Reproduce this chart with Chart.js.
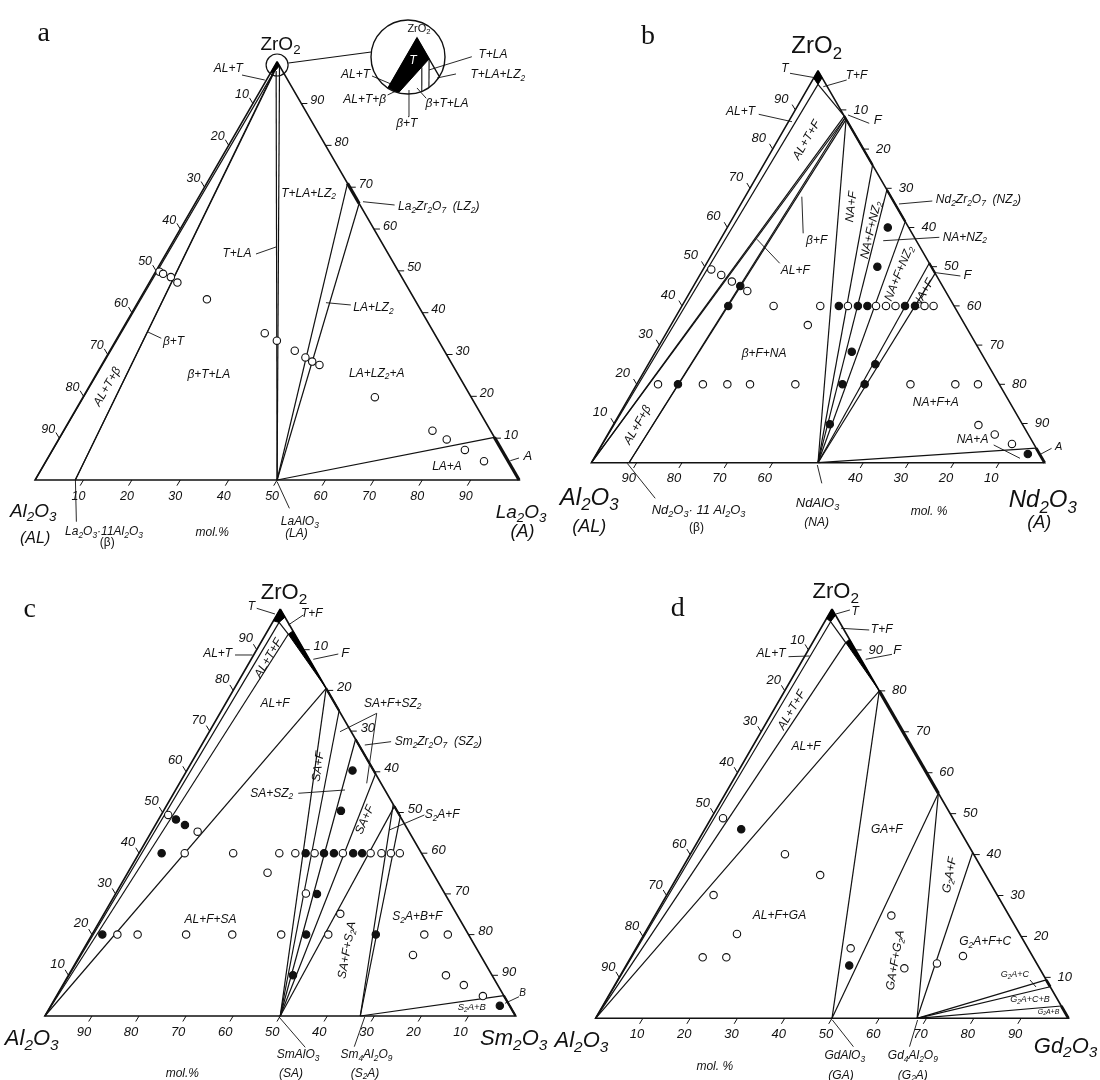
<!DOCTYPE html>
<html>
<head>
<meta charset="utf-8">
<title>ZrO2 - Al2O3 - Ln2O3 isothermal sections</title>
<script src="https://cdn.jsdelivr.net/npm/chart.js@4.4.1/dist/chart.umd.min.js"></script>
<style>
  body { margin: 0; background: #fff; }
  #page { position: relative; width: 1100px; height: 1080px; overflow: hidden; }
  #page canvas { position: absolute; left: 0; top: 0; }
</style>
</head>
<body>
<div id="page">
  <canvas id="chartA" width="1100" height="1080"></canvas>
  <canvas id="chartB" width="1100" height="1080"></canvas>
  <canvas id="chartC" width="1100" height="1080"></canvas>
  <canvas id="chartD" width="1100" height="1080"></canvas>
  <canvas id="chartInset" width="1100" height="1080"></canvas>
</div>
<script>
// axis labels (mol.%)
const TICKS = [10, 20, 30, 40, 50, 60, 70, 80, 90];
const TICKS_NO50 = [10, 20, 30, 40, 60, 70, 80, 90];

// all compositions are [ZrO2, Ln2O3] in mol.%, the rest is Al2O3
const AL = [0, 0];
const BETA = [0, 8.3];   // Ln2O3*11Al2O3
const LNA = [0, 50];     // LnAlO3

// ---- a : La2O3
const aOpen = [[49.8,0.8],[49.3,1.8],[48.5,3.8],[47.2,5.8],[43.2,13.9],[35.1,29.9],[33.3,33.3],[30.9,38.2],[29.3,41.2],[28.3,43.1],[27.5,45],[19.8,60.3],[11.8,76.2],[9.7,80.2],[7.2,85.2],[4.5,90.5]];
const aTies = [[AL,[97.4,0.55]],[BETA,[97.4,0.55]],[BETA,[98.2,0.6]],[LNA,[99,1]],[LNA,[97.8,0.9]],[LNA,[70.9,29.1]],[LNA,[66.1,33.9]],[LNA,[10.2,89.8]]];
const aSolid = [[[70.9,29.1],[66.1,33.9]],[[10.2,89.8],[0,100]]];
const aT = [[100,0],[99,1],[97.4,0.55],[97.5,0]];
const insetTies = [[LNA,[99,1]],[LNA,[98.6,0.9]],[BETA,[97.4,0.55]],[AL,[97.45,0.2]]];

// ---- b : Nd2O3
const bOpen = [[49.3,1.8],[47.9,4.7],[46.2,7.9],[43.8,12.5],[40,20.2],[40,30.5],[40,36.6],[40,42.8],[40,45],[40,47.1],[40,53.5],[40,55.5],[35.1,30.2],[20,4.7],[20,14.6],[20,20],[20,25],[20,35],[20,60.4],[20,70.3],[20,75.3],[9.6,80.6],[7.2,85.4],[4.8,90.4]];
const bFilled = [[45.1,10.3],[40,10.2],[40,34.6],[40,38.8],[40,40.9],[40,49.2],[40,51.4],[60,35.4],[50,38.1],[28.3,43.3],[25.1,50.1],[20,9.1],[20,45.4],[20,50.3],[9.8,47.7],[2.2,95.2]];
const bTies = [[AL,[96.5,1.75]],[[96.5,1.75],[88.4,11.6]],[AL,[88.4,11.6]],[AL,[88,12]],[BETA,[88,12]],[BETA,[87.6,12.4]],[LNA,[87.6,12.4]],[LNA,[75.9,24.1]],[LNA,[69.6,30.4]],[LNA,[61.5,38.5]],[LNA,[50.9,49.1]],[LNA,[48.3,51.7]],[LNA,[3.7,96.3]]];
const bSolid = [[[88.4,11.6],[75.9,24.1]],[[69.6,30.4],[61.5,38.5]],[[50.9,49.1],[48.3,51.7]]];
const bEnd = [[[3.7,96.3],[0,100]]];
const bT = [[100,0],[98.2,1.8],[96.5,1.75],[98.1,0]];

// ---- c : Sm2O3
const cS2A = [0, 67];
const cOpen = [[49.4,1.5],[45.3,9.8],[40,9.7],[40,20],[40,29.8],[40,33.2],[40,37.3],[40,43.3],[40,49.2],[40,51.5],[40,53.5],[40,55.4],[35.2,29.7],[30.1,40.4],[25.1,50.2],[20,5.4],[20,9.7],[20,20],[20,29.8],[20,40.2],[20,50.2],[20,70.6],[20,75.6],[15,70.7],[10,80.2],[7.6,85.2],[4.9,90.6]];
const cFilled = [[60.3,35.2],[50.4,37.7],[48.3,3.7],[46.9,6.3],[40,4.8],[40,35.4],[40,39.3],[40,41.4],[40,45.5],[40,47.4],[30,42.8],[20,2.2],[20,45.5],[20,60.3],[10,47.7],[2.5,95.4]];
const cTies = [[AL,[96.7,1.4]],[AL,[93.8,4.8]],[AL,[80.5,19.5]],[[96.7,1.4],[93.8,4.8]],[LNA,[80.5,19.5]],[LNA,[75,25]],[LNA,[68,32]],[LNA,[59.5,40.5]],[LNA,[51.5,48.5]],[cS2A,[52,48]],[cS2A,[49,51]],[cS2A,[5,95]]];
const cSolid = [[[80.5,19.5],[75,25]],[[68,32],[59.5,40.5]],[[51.5,48.5],[49,51]],[[5,95],[0,100]]];
const cT = [[100,0],[98,2],[96.7,1.4],[97.1,0]];
const cF = [[94.6,5.4],[80.5,19.5],[93.8,4.8]];

// ---- d : Gd2O3
const dG2A = [0, 68];
const dOpen = [[48.9,2.5],[40.1,20],[35,30],[30.1,9.9],[20.6,19.6],[14.9,15.2],[14.9,20.2],[17.1,45.4],[25.1,50],[12.2,59.2],[13.4,65.5],[15.2,70.1]];
const dFilled = [[46.2,7.7],[12.9,47.2]];
const dTies = [[AL,[96.9,1.25]],[AL,[91.8,7]],[AL,[80,20]],[[96.9,1.25],[91.8,7]],[LNA,[80,20]],[LNA,[55,45]],[dG2A,[55,45]],[dG2A,[40.5,59.5]],[dG2A,[9.4,90.6]],[dG2A,[7.7,92.3]],[dG2A,[3,97]]];
const dSolid = [[[80,20],[55,45]]];
const dEnd = [[[9.4,90.6],[7.7,92.3]],[[3,97],[0,100]]];
const dT = [[100,0],[98.5,1.5],[96.9,1.25],[97.7,0]];
const dF = [[92.6,7.4],[80,20],[91.8,7]];

// text: [label, x, y (triangle units), size, options]
const aLabels = [
  ['a', 0.018, 1.068, 28, {serif: 1}],
  ['ZrO_2', 0.507, 1.040, 19, {up: 1}],
  ['AL+T', 0.399, 0.984, 12],
  ['T+LA+LZ_2', 0.565, 0.685, 12],
  ['La_2Zr_2O_7  (LZ_2)', 0.750, 0.653, 12, {a: 'left'}],
  ['T+LA', 0.417, 0.542, 12],
  ['LA+LZ_2', 0.699, 0.411, 12],
  ['β+T', 0.286, 0.331, 12],
  ['AL+T+β', 0.149, 0.223, 12, {r: -60}],
  ['β+T+LA', 0.359, 0.251, 12],
  ['LA+LZ_2+A', 0.706, 0.255, 12],
  ['LA+A', 0.851, 0.032, 12],
  ['A', 1.018, 0.057, 13],
  ['Al_2O_3', -0.004, -0.076, 19],
  ['(AL)', 0.000, -0.139, 16],
  ['La_2O_3·11Al_2O_3', 0.062, -0.124, 12, {a: 'left'}],
  ['(β)', 0.149, -0.150, 12, {up: 1}],
  ['mol.%', 0.366, -0.127, 12],
  ['LaAlO_3', 0.547, -0.100, 12],
  ['(LA)', 0.540, -0.129, 12],
  ['La_2O_3', 1.004, -0.078, 19],
  ['(A)', 1.007, -0.124, 18],
  ['ZrO_2', 0.7932, 1.0782, 11, {up: 1}],
  ['T+LA', 0.946, 1.016, 12],
  ['T+LA+LZ_2', 0.956, 0.968, 12],
  ['AL+T', 0.662, 0.968, 12],
  ['AL+T+β', 0.681, 0.910, 12],
  ['β+T+LA', 0.851, 0.899, 12],
  ['β+T', 0.768, 0.851, 12]
];
const aLeaders = [
  [[0.4275,0.9681],[0.4746,0.9562]], [[0.6775,0.6653],[0.7428,0.6574]], [[0.4564,0.5403],[0.4977,0.557]],
  [[0.601,0.4239],[0.6523,0.4184]], [[0.2318,0.3545],[0.2607,0.3388]], [[0.9818,0.0461],[0.9998,0.0526]],
  [[0.0833,0],[0.0853,-0.0997]], [[0.5,-0.004],[0.5254,-0.0677]],
  [[0.8138,0.9802],[0.9023,1.0119]], [[0.8304,0.961],[0.8696,0.9707]], [[0.6961,0.9658],[0.7353,0.9467]],
  [[0.7283,0.9204],[0.7498,0.9323]], [[0.8081,0.9125],[0.789,0.9372]], [[0.7705,0.8686],[0.7725,0.9323]]
];

const bLabels = [
  ['b', 0.125, 1.087, 28, {serif: 1}],
  ['ZrO_2', 0.497, 1.061, 24, {up: 1}],
  ['T', 0.427, 1.006, 12],
  ['T+F', 0.585, 0.987, 12],
  ['AL+T', 0.361, 0.895, 12, {a: 'right'}],
  ['AL+T+F', 0.475, 0.823, 12, {r: -60}],
  ['F', 0.632, 0.874, 13],
  ['Nd_2Zr_2O_7  (NZ_2)', 0.760, 0.670, 12, {a: 'left'}],
  ['NA+NZ_2', 0.775, 0.575, 12, {a: 'left'}],
  ['F', 0.830, 0.479, 13],
  ['NA+F', 0.574, 0.653, 12, {r: -83}],
  ['NA+F+NZ_2', 0.617, 0.594, 12, {r: -77}],
  ['NA+F+NZ_2', 0.679, 0.483, 12, {r: -68}],
  ['NA+F', 0.733, 0.432, 12, {r: -61}],
  ['β+F', 0.497, 0.566, 12],
  ['AL+F', 0.450, 0.490, 12],
  ['AL+F+β', 0.102, 0.096, 12, {r: -60}],
  ['β+F+NA', 0.381, 0.279, 12],
  ['NA+F+A', 0.760, 0.152, 12],
  ['NA+A', 0.841, 0.058, 12],
  ['A', 1.031, 0.041, 11],
  ['Al_2O_3', -0.005, -0.091, 24],
  ['(AL)', -0.005, -0.165, 18],
  ['Nd_2O_3· 11 Al_2O_3', 0.133, -0.121, 13, {a: 'left'}],
  ['(β)', 0.232, -0.165, 12, {up: 1}],
  ['NdAlO_3', 0.499, -0.105, 13],
  ['(NA)', 0.497, -0.153, 12],
  ['mol. %', 0.745, -0.125, 12],
  ['Nd_2O_3', 0.996, -0.097, 24],
  ['(A)', 0.988, -0.153, 18]
];
const bLeaders = [
  [[0.4382,0.9934],[0.4934,0.9821]], [[0.5633,0.9763],[0.5117,0.9592]], [[0.3692,0.8888],[0.4426,0.8699]],
  [[0.5662,0.887],[0.613,0.8658]], [[0.6787,0.66],[0.7522,0.6676]], [[0.6439,0.5663],[0.7677,0.575]],
  [[0.7599,0.4847],[0.8142,0.4763]], [[0.4643,0.6786],[0.4673,0.5852]], [[0.3654,0.5699],[0.4155,0.5087]],
  [[0.8877,0.0452],[0.9457,0.0112]], [[0.992,0.0222],[1.0154,0.0367]], [[0.079,-0.0015],[0.1408,-0.0908]],
  [[0.4985,-0.0059],[0.5084,-0.0526]]
];

const cLabels = [
  ['c', -0.032, 0.998, 28, {serif: 1}],
  ['ZrO_2', 0.508, 1.039, 22, {up: 1}],
  ['T', 0.439, 1.006, 12],
  ['T+F', 0.567, 0.989, 12],
  ['AL+T', 0.367, 0.891, 12],
  ['AL+T+F', 0.475, 0.879, 12, {r: -60}],
  ['F', 0.638, 0.891, 13],
  ['AL+F', 0.489, 0.768, 12],
  ['SA+F+SZ_2', 0.739, 0.768, 12],
  ['Sm_2Zr_2O_7  (SZ_2)', 0.743, 0.674, 12, {a: 'left'}],
  ['SA+F', 0.581, 0.613, 12, {r: -82}],
  ['SA+SZ_2', 0.482, 0.547, 12],
  ['SA+F', 0.680, 0.482, 12, {r: -66}],
  ['S_2A+F', 0.844, 0.494, 12],
  ['AL+F+SA', 0.352, 0.236, 12],
  ['SA+F+S_2A', 0.642, 0.162, 12, {r: -80}],
  ['S_2A+B+F', 0.791, 0.244, 12],
  ['S_2A+B', 0.907, 0.021, 9.5],
  ['B', 1.015, 0.057, 10],
  ['Al_2O_3', -0.028, -0.057, 22],
  ['SmAlO_3', 0.538, -0.096, 12],
  ['(SA)', 0.523, -0.141, 12],
  ['Sm_4Al_2O_9', 0.683, -0.096, 12],
  ['(S_2A)', 0.680, -0.141, 12],
  ['mol.%', 0.292, -0.141, 12],
  ['Sm_2O_3', 0.996, -0.057, 22]
];
const cLeaders = [
  [[0.45,1.0017],[0.4888,0.9877]], [[0.549,0.9853],[0.5171,0.9607]], [[0.4039,0.887],[0.441,0.887]],
  [[0.5702,0.8764],[0.6233,0.8894]], [[0.6269,0.6985],[0.7049,0.7437]], [[0.6837,0.5717],[0.7049,0.7437]],
  [[0.6796,0.6658],[0.7355,0.674]], [[0.5383,0.5472],[0.6376,0.5553]], [[0.7317,0.457],[0.8062,0.4939]],
  [[0.9775,0.0312],[1.0072,0.0474]], [[0.4969,-0.0017],[0.553,-0.0769]], [[0.6796,-0.0017],[0.6573,-0.0754]]
];

const dLabels = [
  ['d', 0.174, 1.002, 28, {serif: 1}],
  ['ZrO_2', 0.508, 1.042, 22, {up: 1}],
  ['T', 0.549, 0.993, 12],
  ['T+F', 0.605, 0.949, 12],
  ['F', 0.638, 0.900, 13],
  ['AL+T', 0.371, 0.892, 12],
  ['AL+T+F', 0.415, 0.753, 12, {r: -60}],
  ['AL+F', 0.445, 0.664, 12],
  ['GA+F', 0.616, 0.460, 12],
  ['G_2A+F', 0.749, 0.350, 12, {r: -80}],
  ['AL+F+GA', 0.389, 0.252, 12],
  ['GA+F+G_2A', 0.634, 0.142, 12, {r: -80}],
  ['G_2A+F+C', 0.824, 0.187, 12],
  ['G_2A+C', 0.887, 0.106, 9],
  ['G_2A+C+B', 0.919, 0.045, 9],
  ['G_2A+B', 0.958, 0.016, 7],
  ['Al_2O_3', -0.030, -0.055, 22],
  ['mol. %', 0.252, -0.118, 12],
  ['GdAlO_3', 0.527, -0.092, 12],
  ['(GA)', 0.519, -0.139, 12],
  ['Gd_4Al_2O_9', 0.671, -0.092, 12],
  ['(G_2A)', 0.671, -0.139, 12],
  ['Gd_2O_3', 0.994, -0.069, 22]
];
const dLeaders = [
  [[0.5082,0.9878],[0.5379,0.9976]], [[0.5193,0.9528],[0.5787,0.9487]], [[0.5713,0.8771],[0.6269,0.8893]],
  [[0.408,0.8835],[0.4526,0.8852]], [[0.9188,0.0936],[0.9315,0.0765]],
  [[0.5008,-0.0042],[0.5453,-0.0694]], [[0.681,-0.0042],[0.6639,-0.0694]]
];

// ---------------------------------------------------------------
const FONT = '"Liberation Sans", Arial, Helvetica, sans-serif';
const SERIF = '"Liberation Serif", "DejaVu Serif", serif';

// text with "_x" subscripts
function richText(ctx, str, x, y, size, o) {
  o = o || {};
  const fam = o.serif ? SERIF : FONT;
  const sty = (o.up || o.serif) ? '' : 'italic ';
  const parts = [];
  for (let i = 0; i < str.length; i++) {
    if (str[i] === '_') { parts.push({t: str[i + 1], sub: true}); i++; }
    else if (parts.length && !parts[parts.length - 1].sub) parts[parts.length - 1].t += str[i];
    else parts.push({t: str[i], sub: false});
  }
  let w = 0;
  parts.forEach(p => {
    p.f = sty + (p.sub ? size * 0.7 : size) + 'px ' + fam;
    ctx.font = p.f;
    p.w = ctx.measureText(p.t).width;
    w += p.w;
  });
  ctx.save();
  ctx.translate(x, y);
  if (o.r) ctx.rotate(o.r * Math.PI / 180);
  ctx.fillStyle = o.color || '#111';
  ctx.textBaseline = 'middle';
  ctx.textAlign = 'left';
  let cx = o.a === 'left' ? 0 : o.a === 'right' ? -w : -w / 2;
  parts.forEach(p => {
    ctx.font = p.f;
    ctx.fillText(p.t, cx, p.sub ? size * 0.3 : 0);
    cx += p.w;
  });
  ctx.restore();
}

// composition -> triangle units (x across the base, y = ZrO2 fraction)
const P = c => ({x: c[1] / 100 + c[0] / 200, y: c[0] / 100});
const N = q => ({x: q[0], y: q[1]});

const SIDE = {
  bottom: t => ({x: t, y: 0}),
  left: t => ({x: t / 2, y: t}),
  right: t => ({x: 1 - t / 2, y: t})
};
const TICK_DIR = {bottom: [-0.007, -0.0135], left: [-0.007, 0.0135], right: [0.0125, 0]};

function seg(points, width) {
  return {type: 'line', data: points, borderColor: '#111', borderWidth: width, pointRadius: 0,
          fill: false, clip: false, order: 3};
}
function blob(poly) {
  const pts = poly.map(P);
  pts.push(pts[0]);
  return {type: 'line', data: pts, borderColor: '#000', backgroundColor: '#000', borderWidth: 1,
          pointRadius: 0, fill: 'shape', clip: false, order: 2};
}
function dots(list, filled) {
  return {type: 'scatter', data: list.map(P), pointRadius: 3.7, pointBorderWidth: 1.1,
          pointBorderColor: '#111', pointBackgroundColor: filled ? '#111' : '#fff', clip: false, order: 0};
}

function buildPanel(id, p) {
  const ds = [];
  ds.push(seg([P([100, 0]), P([0, 0]), P([0, 100]), P([100, 0])], 1.6));
  p.ties.forEach(t => ds.push(seg([P(t[0]), P(t[1])], 1.2)));
  p.solid.forEach(s => ds.push(seg([P(s[0]), P(s[1])], p.solidWidth || 3.2)));
  (p.ends || []).forEach(s => ds.push(seg([P(s[0]), P(s[1])], 2.8)));
  p.blobs.forEach(b => ds.push(blob(b)));
  p.leaders.forEach(l => ds.push(seg([N(l[0]), N(l[1])], 0.9)));
  p.axes.forEach(ax => ax.vals.forEach(v => {
    const s = SIDE[ax.side](ax.rev ? 1 - v / 100 : v / 100);
    const d = TICK_DIR[ax.side];
    ds.push(seg([s, {x: s.x + d[0], y: s.y + d[1]}], 1));
  }));
  ds.push(dots(p.open, false));
  if (p.filled) ds.push(dots(p.filled, true));
  (p.extra || []).forEach(e => ds.push(e));

  const textPlugin = {
    id: 'ternaryText',
    afterDatasetsDraw(chart) {
      const ctx = chart.ctx, xs = chart.scales.x, ys = chart.scales.y;
      p.axes.forEach(ax => ax.vals.forEach(v => {
        const s = SIDE[ax.side](ax.rev ? 1 - v / 100 : v / 100);
        const off = p.tickOff[ax.side];
        richText(ctx, String(v), xs.getPixelForValue(s.x) + off[0], ys.getPixelForValue(s.y) + off[1], p.tickSize);
      }));
      p.labels.forEach(l => richText(ctx, l[0], xs.getPixelForValue(l[1]), ys.getPixelForValue(l[2]), l[3], l[4]));
    }
  };

  return new Chart(document.getElementById(id), {
    type: 'scatter',
    data: {datasets: ds},
    options: {
      responsive: false,
      animation: false,
      events: [],
      layout: {padding: p.pad},
      scales: {
        x: {type: 'linear', min: 0, max: 1, display: false},
        y: {type: 'linear', min: 0, max: 1, display: false}
      },
      plugins: {legend: {display: false}, tooltip: {enabled: false}}
    },
    plugins: [textPlugin]
  });
}

const axesAD = [{side: 'bottom', vals: TICKS}, {side: 'left', vals: TICKS, rev: 1}, {side: 'right', vals: TICKS}];

buildPanel('chartA', {
  pad: {left: 35.1, right: 580.9, top: 61.7, bottom: 600},
  open: aOpen, ties: aTies, solid: aSolid, blobs: [aT], leaders: aLeaders, labels: aLabels,
  axes: axesAD, tickSize: 12.5,
  tickOff: {bottom: [-5, 17], left: [-11, -9], right: [16, -3]},
  extra: [
    {type: 'scatter', data: [{x: 0.5, y: 0.9921}], pointRadius: 11, pointBorderWidth: 1.2,
     pointBorderColor: '#111', pointBackgroundColor: 'rgba(0,0,0,0)', clip: false, order: 1},
    seg([{x: 0.5236, y: 0.9969}, {x: 0.6944, y: 1.0232}], 1.1),
    {type: 'scatter', data: [{x: 0.6857, y: 1.022}], pointStyle: 'triangle', pointRadius: 4.5,
     pointRotation: 82, pointBorderWidth: 0, pointBackgroundColor: '#111', clip: false, order: 1}
  ]
});

buildPanel('chartB', {
  pad: {left: 591.4, right: 55.4, top: 70.7, bottom: 617.3},
  open: bOpen, filled: bFilled, ties: bTies, solid: bSolid, solidWidth: 2.2, ends: bEnd,
  blobs: [bT], leaders: bLeaders, labels: bLabels,
  axes: [{side: 'bottom', vals: TICKS_NO50, rev: 1}, {side: 'left', vals: TICKS}, {side: 'right', vals: TICKS, rev: 1}],
  tickSize: 13,
  tickOff: {bottom: [-8, 16], left: [-14, -11], right: [20, 0]}
});

buildPanel('chartC', {
  pad: {left: 44.9, right: 584.4, top: 609, bottom: 64},
  open: cOpen, filled: cFilled, ties: cTies, solid: cSolid, solidWidth: 2.2, blobs: [cT, cF],
  leaders: cLeaders, labels: cLabels,
  axes: [{side: 'bottom', vals: TICKS, rev: 1}, {side: 'left', vals: TICKS}, {side: 'right', vals: TICKS, rev: 1}],
  tickSize: 13,
  tickOff: {bottom: [-8, 16], left: [-11, -11], right: [17, -3]}
});

buildPanel('chartD', {
  pad: {left: 595.6, right: 31.6, top: 609, bottom: 61.7},
  open: dOpen, filled: dFilled, ties: dTies, solid: dSolid, ends: dEnd, blobs: [dT, dF],
  leaders: dLeaders, labels: dLabels,
  axes: axesAD, tickSize: 13,
  tickOff: {bottom: [-6, 16], left: [-11, -10], right: [20, 0]}
});

// magnified ZrO2 corner of panel a
const insetFrame = {
  id: 'insetFrame',
  beforeDatasetsDraw(chart) {
    const a = chart.chartArea, ctx = chart.ctx;
    ctx.save();
    ctx.beginPath();
    ctx.arc((a.left + a.right) / 2, (a.top + a.bottom) / 2, (a.right - a.left) / 2, 0, 2 * Math.PI);
    ctx.clip();
  },
  afterDatasetsDraw(chart) {
    const a = chart.chartArea, ctx = chart.ctx;
    ctx.restore();
    ctx.beginPath();
    ctx.arc((a.left + a.right) / 2, (a.top + a.bottom) / 2, (a.right - a.left) / 2, 0, 2 * Math.PI);
    ctx.lineWidth = 1.4;
    ctx.strokeStyle = '#111';
    ctx.stroke();
    richText(ctx, 'T', chart.scales.x.getPixelForValue(0.49835), chart.scales.y.getPixelForValue(0.9890), 12, {color: '#fff'});
  }
};
new Chart(document.getElementById('chartInset'), {
  type: 'scatter',
  data: {datasets: [
    seg([P(AL), P([100, 0]), P([0, 100])], 1.4),
    blob(aT)
  ].concat(insetTies.map(t => seg([P(t[0]), P(t[1])], 1.1)))},
  options: {
    responsive: false, animation: false, events: [],
    layout: {padding: {left: 371, right: 655, top: 20, bottom: 986}},
    scales: {
      x: {type: 'linear', min: 0.480992, max: 0.511571, display: false},
      y: {type: 'linear', min: 0.973225, max: 1.008606, display: false}
    },
    plugins: {legend: {display: false}, tooltip: {enabled: false}}
  },
  plugins: [insetFrame]
});
</script>
</body>
</html>
